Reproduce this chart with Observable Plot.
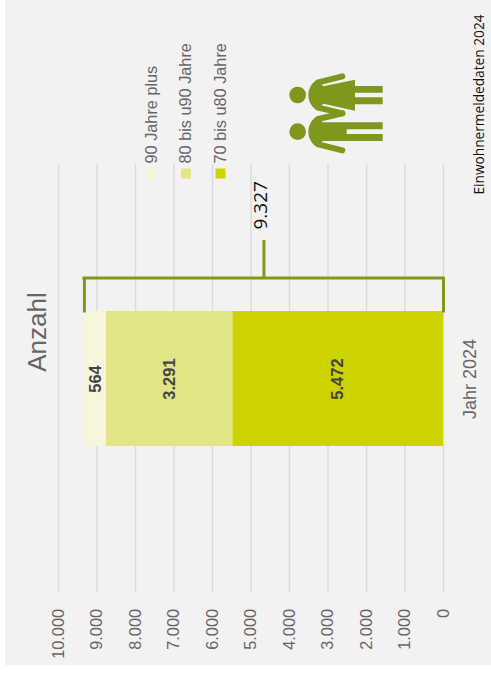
<!DOCTYPE html>
<html lang="de">
<head>
<meta charset="utf-8">
<script src="https://cdn.jsdelivr.net/npm/d3@7"></script>
<script src="https://cdn.jsdelivr.net/npm/@observablehq/plot@0.6"></script>
<style>
html,body{margin:0;padding:0;background:#fff;}
#chart{margin-left:5px;width:486px;}
svg{display:block;}
</style>
</head>
<body>
<div id="chart"></div>
<script>
const year = "Jahr 2024";
const ageGroups = ["70 bis u80 Jahre", "80 bis u90 Jahre", "90 Jahre plus"];
const counts = [5472, 3291, 564];
const total = 9327;
const xTicks = [0, 1000, 2000, 3000, 4000, 5000, 6000, 7000, 8000, 9000, 10000];
const colours = ["#cdd400", "#e1e587", "#f5f6dc"];
const axisTitle = "Anzahl";
const sourceNote = "Einwohnermeldedaten 2024";

const rows = ageGroups.map((g, i) => ({group: g, value: counts[i], year}));
const de = d3.formatLocale({decimal: ",", thousands: ".", grouping: [3], currency: ["", "€"]}).format(",");
const grey = "#666", green = "#7f991f";
const sans = "'Liberation Sans', Arial, sans-serif";

// pictogram: woman and man, turned like the rest of the chart
function icon() {
  const g = d3.create("svg:g")
    .attr("transform", "translate(275,60) scale(0.3333)")
    .attr("fill", "#7d981c").attr("stroke", "none");
  g.append("circle").attr("cx", 53).attr("cy", 105).attr("r", 25);
  g.append("circle").attr("cx", 53).attr("cy", 215).attr("r", 25);
  g.append("path").attr("d",
    "M85 105C85 85 97 66 112 59L130 79L225 59V78H308V98H225V112H308V133H225V152L130 131L112 151C97 144 85 125 85 105Z");
  g.append("path").attr("d",
    "M85 215C85 195 97 176 112 169L128 187H308V208H200V222H308V243H128L112 261C97 254 85 235 85 215Z");
  for (const d of ["M115 67L187 49", "M115 143L187 160", "M115 177L187 160", "M115 253L187 271"])
    g.append("path").attr("d", d).attr("fill", "none").attr("stroke", "#7d981c")
      .attr("stroke-width", 18).attr("stroke-linecap", "round");
  return g.node();
}

const legend = ageGroups.slice().reverse().flatMap((g, i) => {
  const colour = colours[2 - i];
  const dx = 93 + i * 34.5;
  return [
    Plot.dot([g], {frameAnchor: "top-left", symbol: "square", r: 5.64, stroke: null, fill: () => colour, dx, dy: 9}),
    Plot.text([g], {frameAnchor: "top-left", text: d => d, rotate: -90, textAnchor: "start",
      dx: dx - 6.5, dy: -1, fontSize: 16.3, fontFamily: sans, fill: grey})
  ];
});

const chart = Plot.plot({
  width: 486,
  height: 665,
  marginTop: 164,
  marginBottom: 72.5,
  marginLeft: 53,
  marginRight: 48,
  style: {background: "#f2f2f2", overflow: "visible"},
  x: {domain: [10000, 0], label: null},
  y: {domain: [year], padding: 0.521, axis: null},
  color: {domain: [...ageGroups, ...colours], range: [...colours, ...colours]},
  marks: [
    Plot.ruleX(xTicks, {stroke: "#dcdcdc", strokeWidth: 1.6}),
    Plot.axisX(xTicks, {anchor: "bottom", tickSize: 0, tickPadding: 16, tickRotate: -90, textAnchor: "end",
      tickFormat: de, fontSize: 16.3, fontFamily: sans, fill: grey, label: null, lineAnchor: "middle"}),
    Plot.barX(rows, Plot.stackX({x: "value", y: "year", fill: "group", order: null})),
    Plot.text(rows, Plot.stackX({x: "value", y: "year", order: null, text: d => de(d.value), rotate: -90,
      fontSize: 16.5, fontWeight: "bold", fontFamily: sans, fill: "#444"})),
    Plot.ruleY([year], {x1: 0, x2: total, dy: -101, stroke: green, strokeWidth: 3, strokeLinecap: "square"}),
    Plot.ruleX([0, total], {stroke: green, strokeWidth: 3, insetTop: 113, insetBottom: 280}),
    Plot.ruleX([total / 2], {stroke: green, strokeWidth: 3, insetTop: 76, insetBottom: 315}),
    Plot.text([total], {x: total / 2, frameAnchor: "top", dx: -10, dy: 65, text: d => de(d), rotate: -90, textAnchor: "start",
      fontSize: 19, fontFamily: "'Open Sans', sans-serif", fill: "#111"}),
    Plot.text([year], {x: 0, y: d => d, dx: 27, text: d => d, rotate: -90,
      fontSize: 18, fontFamily: sans, fill: grey}),
    Plot.text([axisTitle], {x: 10000, y: () => year, dx: -21, dy: -47, text: d => d, rotate: -90,
      fontSize: 26, fontFamily: sans, fill: grey}),
    ...legend,
    Plot.text([sourceNote], {frameAnchor: "top-right", dx: 31, dy: 30, text: d => d, rotate: -90, textAnchor: "start",
      fontSize: 13.7, fontFamily: "'Open Sans', sans-serif", fill: "#111"}),
    icon
  ]
});
document.getElementById("chart").append(chart);
</script>
</body>
</html>
